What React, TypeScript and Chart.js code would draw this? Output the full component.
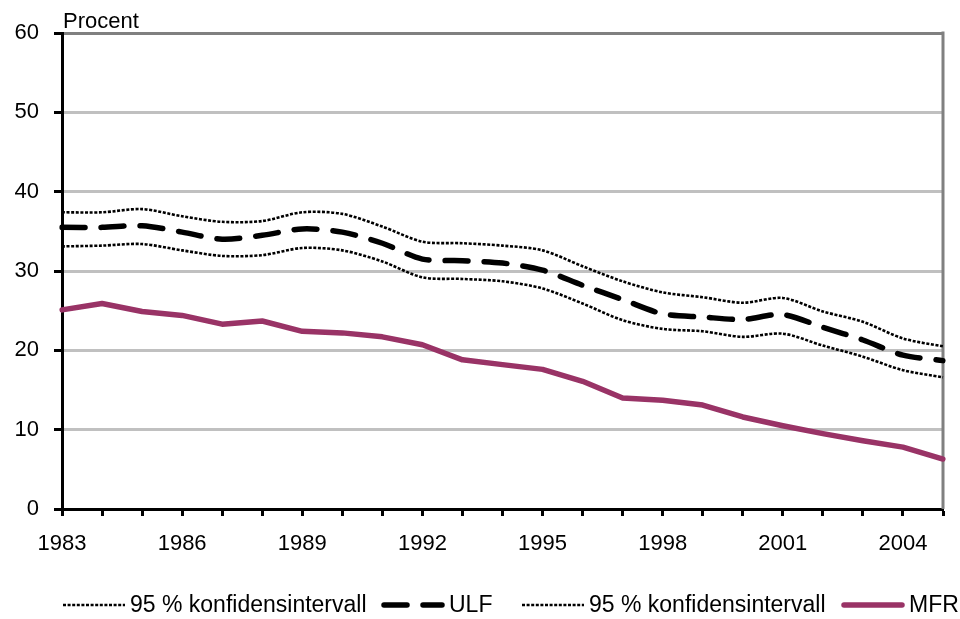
import React, { useEffect, useRef } from 'react';
import { Chart, registerables } from 'chart.js';

Chart.register(...registerables);

const years = [
  '1983', '1984', '1985', '1986', '1987', '1988', '1989', '1990', '1991', '1992', '1993', '1994',
  '1995', '1996', '1997', '1998', '1999', '2000', '2001', '2002', '2003', '2004', '2005',
];
const labelledYears = ['1983', '1986', '1989', '1992', '1995', '1998', '2001', '2004'];
const yTicks = [0, 10, 20, 30, 40, 50, 60];
const yAxisTitle = 'Procent';

const upperCI = [37.4, 37.4, 37.8, 36.9, 36.2, 36.3, 37.4, 37.2, 35.6, 33.7, 33.5, 33.2, 32.6, 30.6, 28.7, 27.3, 26.7, 26.0, 26.6, 24.9, 23.6, 21.5, 20.5];
const ulf = [35.5, 35.5, 35.7, 34.9, 34.0, 34.5, 35.3, 34.9, 33.5, 31.5, 31.3, 31.0, 30.1, 28.2, 26.4, 24.6, 24.2, 23.9, 24.5, 22.9, 21.3, 19.4, 18.7];
const lowerCI = [33.1, 33.2, 33.4, 32.6, 31.9, 32.0, 32.9, 32.6, 31.2, 29.2, 29.0, 28.7, 27.8, 25.9, 23.8, 22.7, 22.4, 21.7, 22.1, 20.6, 19.2, 17.5, 16.6];
const mfr = [25.1, 25.9, 24.9, 24.4, 23.3, 23.7, 22.4, 22.2, 21.7, 20.7, 18.8, 18.2, 17.6, 16.1, 14.0, 13.7, 13.1, 11.6, 10.5, 9.5, 8.6, 7.8, 6.3];

const seriesLabels = ['95 % konfidensintervall', 'ULF', '95 % konfidensintervall', 'MFR'];

const FONT = '"Liberation Sans", Arial, sans-serif';

const legendStarts = [63, 382, 522, 842];

const customPlugin = {
  id: 'customDecor',
  beforeDatasetsDraw(chart: any) {
    const { ctx, chartArea } = chart;
    ctx.save();
    ctx.strokeStyle = '#808080';
    ctx.lineWidth = 3;
    ctx.beginPath();
    ctx.moveTo(chartArea.right, chartArea.top - 1.5);
    ctx.lineTo(chartArea.right, chartArea.bottom);
    ctx.stroke();
    ctx.restore();
  },
  afterDraw(chart: any) {
    const { ctx, chartArea } = chart;
    ctx.save();
    ctx.fillStyle = '#000';
    ctx.font = `22px ${FONT}`;
    ctx.textBaseline = 'alphabetic';
    ctx.textAlign = 'left';
    ctx.fillText(yAxisTitle, chartArea.left + 1, 28);

    ctx.font = `23px ${FONT}`;
    ctx.textBaseline = 'middle';
    const y = 605;
    const sampleW = 62;
    chart.data.datasets.forEach((ds: any, i: number) => {
      const x0 = legendStarts[i];
      ctx.beginPath();
      ctx.setLineDash(ds.borderDash || []);
      ctx.lineWidth = ds.borderWidth;
      ctx.strokeStyle = ds.borderColor;
      ctx.lineCap = ds.borderCapStyle || 'butt';
      ctx.moveTo(x0 + (ds.borderCapStyle === 'round' ? 2 : 0), y);
      ctx.lineTo(x0 + sampleW - (ds.borderCapStyle === 'round' ? 2 : 0), y);
      ctx.stroke();
      ctx.setLineDash([]);
      ctx.fillText(ds.label, x0 + sampleW + 5, y + 1);
    });
    ctx.restore();
  },
};

export default function App() {
  const canvasRef = useRef<HTMLCanvasElement | null>(null);

  useEffect(() => {
    if (!canvasRef.current) return;
    const dotted = {
      borderColor: '#000000',
      borderWidth: 2.6,
      borderDash: [3, 1.6],
      tension: 0.3,
      pointRadius: 0,
      fill: false,
    };
    const chart = new Chart(canvasRef.current, {
      type: 'line',
      data: {
        labels: years,
        datasets: [
          { ...dotted, label: seriesLabels[0], data: upperCI },
          {
            label: seriesLabels[1],
            data: ulf,
            borderColor: '#000000',
            borderWidth: 5.5,
            borderDash: [23, 16],
            borderCapStyle: 'round',
            tension: 0.3,
            pointRadius: 0,
            fill: false,
          },
          { ...dotted, label: seriesLabels[2], data: lowerCI },
          {
            label: seriesLabels[3],
            data: mfr,
            borderColor: '#993366',
            borderWidth: 5.5,
            borderCapStyle: 'round',
            borderJoinStyle: 'round',
            tension: 0,
            pointRadius: 0,
            fill: false,
          },
        ] as any,
      },
      options: {
        animation: false,
        responsive: false,
        layout: { padding: { left: 0, top: 33, right: 17, bottom: 0 } },
        plugins: {
          legend: { display: false },
          tooltip: { enabled: false },
        },
        elements: { line: { clip: false } as any },
        scales: {
          x: {
            type: 'category',
            offset: false,
            grid: {
              drawOnChartArea: false,
              drawTicks: true,
              tickLength: 7,
              tickColor: '#000000',
              tickWidth: 3,
            },
            border: { color: '#000000', width: 3 },
            ticks: {
              autoSkip: false,
              maxRotation: 0,
              color: '#000000',
              padding: 15,
              font: { family: FONT, size: 22 },
              callback: (_v: any, i: number) =>
                labelledYears.includes(years[i]) ? years[i] : '',
            },
            afterFit: (scale: any) => {
              scale.height = 110;
            },
          },
          y: {
            min: 0,
            max: 60,
            grid: {
              color: (c: any) =>
                c.tick && c.tick.value === 60 ? '#808080' : c.tick && c.tick.value === 0 ? '#000000' : '#c0c0c0',
              lineWidth: 3,
              tickLength: 8,
              tickColor: '#000000',
              tickWidth: 3,
            },
            border: { color: '#000000', width: 3 },
            ticks: {
              color: '#000000',
              padding: 15,
              font: { family: FONT, size: 22 },
            },
            afterBuildTicks: (scale: any) => {
              scale.ticks = yTicks.map((v) => ({ value: v }));
            },
            afterFit: (scale: any) => {
              scale.width = 62;
            },
          },
        },
      } as any,
      plugins: [customPlugin],
    });
    return () => chart.destroy();
  }, []);

  return (
    <div style={{ position: 'absolute', left: 0, top: 0, width: 960, height: 619, background: '#fff' }}>
      <canvas ref={canvasRef} width={960} height={619} style={{ display: 'block' }} />
    </div>
  );
}
